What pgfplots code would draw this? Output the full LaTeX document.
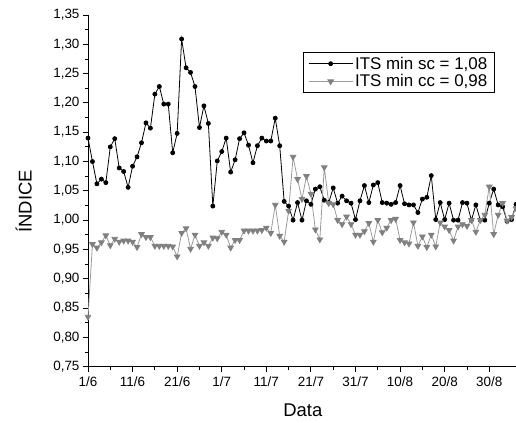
\documentclass[border=0pt]{standalone}
\usepackage{fontspec}
\setmainfont{Liberation Sans}
\usepackage{pgfplots}
\pgfplotsset{compat=1.18}
\definecolor{ggray}{RGB}{128,128,128}
\definecolor{lgray}{RGB}{155,155,155}
\begin{document}
\begin{tikzpicture}
\useasboundingbox (-88bp,-56.3bp) rectangle (428bp,366.7bp);
\begin{axis}[
  at={(0,0)}, anchor=south west,
  scale only axis, width=428bp, height=351.7bp,
  xmin=0, xmax=96, ymin=0.75, ymax=1.35,
  axis x line*=bottom, axis y line*=left,
  axis line style={line width=0.9bp, -},
  tick align=outside,
  major tick length=5bp, minor tick length=3bp,
  tick style={line width=0.9bp, black},
  xtick={0,10,...,90},
  xticklabels={1/6,11/6,21/6,1/7,11/7,21/7,31/7,10/8,20/8,30/8},
  minor x tick num=1,
  ytick={0.75,0.80,...,1.36},
  minor y tick num=1,
  /pgf/number format/assume math mode=true,
  yticklabel style={/pgf/number format/.cd, use comma, fixed, fixed zerofill, precision=2},
  tick label style={font=\fontsize{13.5}{15}\selectfont},
  xticklabel style={yshift=-2bp},
  xlabel={Data}, ylabel={ÍNDICE},
  label style={font=\fontsize{18.5}{21}\selectfont},
  xlabel style={at={(axis description cs:0.502,-0.125)}, anchor=center},
  ylabel style={at={(axis description cs:-0.15,0.47)}, anchor=center, rotate=0},
  legend style={at={(0.502,0.895)}, anchor=north west, draw=black, line width=0.8bp,
    font=\fontsize{17}{19}\selectfont, row sep=0bp, inner xsep=5bp, inner ysep=2.5bp},
  legend cell align=left,
  legend image code/.code={\draw[mark repeat=2,mark phase=2] plot coordinates {(0bp,0bp)(22bp,0bp)(44bp,0bp)};},
  clip=false,
]
\addplot[black, line width=0.8bp, mark=*, mark size=2bp, mark options={fill=black}] coordinates {
(0,1.14)(1,1.100)(2,1.062)(3,1.070)(4,1.064)(5,1.125)(6,1.139)(7,1.089)(8,1.083)(9,1.056)
(10,1.092)(11,1.108)(12,1.132)(13,1.166)(14,1.157)(15,1.215)(16,1.228)(17,1.198)(18,1.198)(19,1.115)
(20,1.148)(21,1.309)(22,1.260)(23,1.252)(24,1.228)(25,1.158)(26,1.195)(27,1.165)(28,1.024)(29,1.101)
(30,1.117)(31,1.140)(32,1.082)(33,1.103)(34,1.139)(35,1.149)(36,1.128)(37,1.098)(38,1.127)(39,1.140)
(40,1.135)(41,1.135)(42,1.174)(43,1.127)(44,1.032)(45,1.024)(46,1.000)(47,1.030)(48,1.000)(49,1.033)
(50,1.027)(51,1.053)(52,1.057)(53,1.034)(54,1.030)(55,1.055)(56,1.029)(57,1.041)(58,1.033)(59,1.029)
(60,1.001)(61,1.033)(62,1.059)(63,1.030)(64,1.060)(65,1.064)(66,1.030)(67,1.029)(68,1.027)(69,1.030)
(70,1.059)(71,1.028)(72,1.026)(73,1.026)(74,1.013)(75,1.036)(76,1.039)(77,1.076)(78,1.001)(79,1.030)
(80,1.001)(81,1.029)(82,1.000)(83,1.000)(84,1.030)(85,1.029)(86,1.000)(87,1.026)(88,1.000)(89,1.000)
(90,1.029)(91,1.053)(92,1.026)(93,1.023)(94,0.998)(95,1.001)(96,1.027)
};
\addlegendentry{ITS min sc = 1,08}
\addplot[lgray, line width=0.8bp, mark=triangle*, mark size=3.2bp, mark options={rotate=180, fill=ggray, draw=ggray}] coordinates {
(0,0.835)(1,0.959)(2,0.953)(3,0.962)(4,0.974)(5,0.957)(6,0.968)(7,0.963)(8,0.965)(9,0.965)
(10,0.963)(11,0.954)(12,0.976)(13,0.971)(14,0.971)(15,0.956)(16,0.956)(17,0.956)(18,0.956)(19,0.955)
(20,0.938)(21,0.978)(22,0.986)(23,0.951)(24,0.975)(25,0.956)(26,0.962)(27,0.956)(28,0.970)(29,0.969)
(30,0.980)(31,0.975)(32,0.953)(33,0.966)(34,0.966)(35,0.982)(36,0.982)(37,0.982)(38,0.982)(39,0.983)
(40,0.987)(41,0.978)(42,1.026)(43,0.973)(44,0.963)(45,1.016)(46,1.108)(47,1.070)(48,1.036)(49,1.075)
(50,1.045)(51,0.984)(52,0.967)(53,1.090)(54,1.029)(55,1.027)(56,1.000)(57,0.993)(58,1.006)(59,0.993)
(60,0.975)(61,0.975)(62,0.981)(63,0.995)(64,0.963)(65,1.000)(66,0.979)(67,0.987)(68,1.000)(69,1.002)
(70,0.966)(71,0.962)(72,0.960)(73,0.996)(74,0.956)(75,0.972)(76,0.954)(77,0.975)(78,0.955)(79,0.996)
(80,0.989)(81,0.983)(82,0.965)(83,0.989)(84,0.993)(85,0.990)(86,1.000)(87,0.980)(88,1.000)(89,1.009)
(90,1.057)(91,0.976)(92,1.009)(93,1.029)(94,0.999)(95,1.005)(96,1.020)
};
\addlegendentry{ITS min cc = 0,98}
\end{axis}
\end{tikzpicture}
\end{document}
